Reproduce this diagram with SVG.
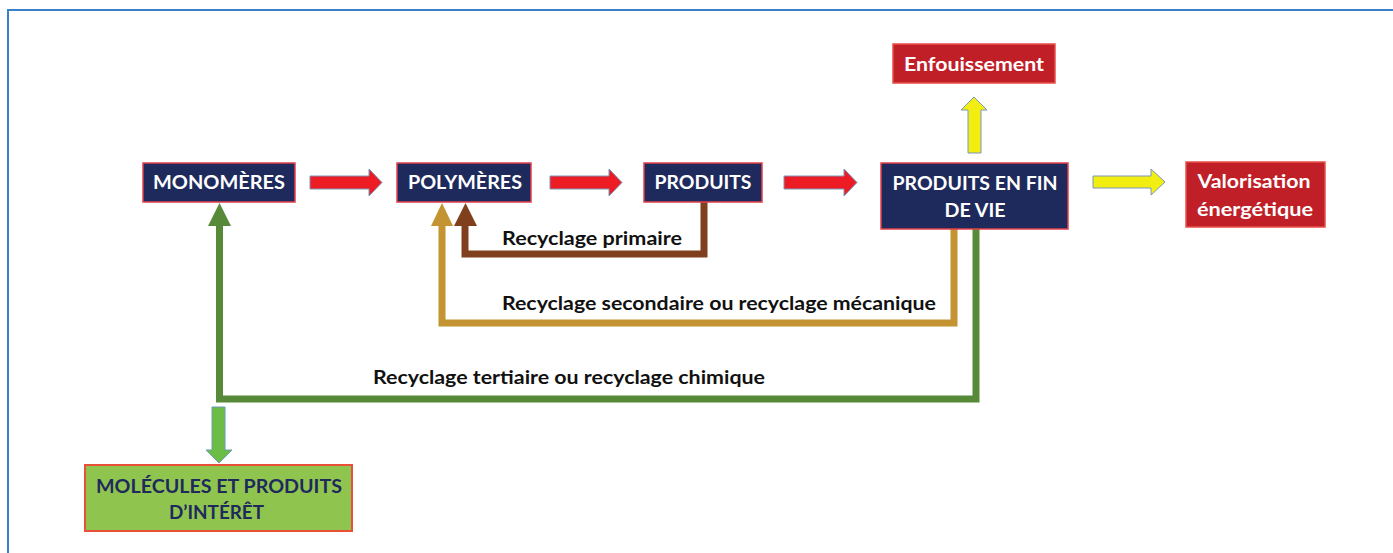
<svg xmlns="http://www.w3.org/2000/svg" width="1393" height="553" viewBox="0 0 1393 553">
<style>
.navy{fill:#1f2a5c;stroke:#e2404a;stroke-width:1.5}
.redbox{fill:#c01f28;stroke:#e85048;stroke-width:1.5}
.greenbox{fill:#8fc54f;stroke:#e8503a;stroke-width:2}
.wt{font-family:Lato,"Liberation Sans",sans-serif;font-weight:bold;font-size:19px;fill:#ffffff;text-anchor:middle}
.gt{font-family:Lato,"Liberation Sans",sans-serif;font-weight:bold;font-size:19px;fill:#1f2a5c;text-anchor:middle}
.lbl{font-family:Lato,"Liberation Sans",sans-serif;font-weight:bold;font-size:18px;fill:#111111}
.redarrow{fill:#ed1c24;stroke:#7a96bb;stroke-width:1}
.yelarrow{fill:#f2ee12;stroke:#7a96bb;stroke-width:1}
.grnarrow{fill:#6cbd45;stroke:#6a9ab8;stroke-width:1}
.line{fill:none;stroke-width:7;stroke-linejoin:miter}
</style>
<rect x="0" y="0" width="1393" height="553" fill="#ffffff"/>
<rect x="8" y="10" width="1420" height="600" fill="none" stroke="#3a80c8" stroke-width="2"/>

<g id="connectors">
  <polygon class="redarrow" points="310,176 369,176 369,169 382,182.5 369,196 369,189 310,189"/>
  <polygon class="redarrow" points="550,176 609,176 609,169 622,182.5 609,196 609,189 550,189"/>
  <polygon class="redarrow" points="784,176 844,176 844,169 857,182.5 844,196 844,189 784,189"/>
  <polygon class="yelarrow" points="968,153 968,110 961,110 974,97 987,110 981,110 981,153"/>
  <polygon class="yelarrow" points="1093,176 1151,176 1151,169 1165,182 1151,195 1151,188 1093,188"/>
  <polygon class="grnarrow" points="212,407 225,407 225,450 232,450 219,463 206,450 212,450"/>
  <path class="line" stroke="#568a38" d="M976,229 V399 H219.5 V224"/>
  <polygon fill="#568a38" points="208,226 231,226 219.5,203"/>
  <path class="line" stroke="#c39431" d="M954,229 V323 H442 V224"/>
  <polygon fill="#c39431" points="431,226 453,226 442,203"/>
  <path class="line" stroke="#80401e" d="M704,202 V254 H465 V224"/>
  <polygon fill="#80401e" points="454,226 477,226 465.5,203"/>
  <text class="lbl" x="502" y="245" textLength="180" lengthAdjust="spacingAndGlyphs">Recyclage primaire</text>
  <text class="lbl" x="502" y="310" textLength="434" lengthAdjust="spacingAndGlyphs">Recyclage secondaire ou recyclage mécanique</text>
  <text class="lbl" x="373" y="384" textLength="392" lengthAdjust="spacingAndGlyphs">Recyclage tertiaire ou recyclage chimique</text>
</g>

<g id="monomeres">
  <rect class="navy" x="143" y="163" width="152" height="39"/>
  <text class="wt" x="219" y="189" textLength="132" lengthAdjust="spacingAndGlyphs">MONOMÈRES</text>
</g>
<g id="polymeres">
  <rect class="navy" x="397" y="163" width="134" height="39"/>
  <text class="wt" x="465" y="189" textLength="114" lengthAdjust="spacingAndGlyphs">POLYMÈRES</text>
</g>
<g id="produits">
  <rect class="navy" x="644" y="163" width="118" height="39"/>
  <text class="wt" x="703" y="189" textLength="97" lengthAdjust="spacingAndGlyphs">PRODUITS</text>
</g>
<g id="fin-de-vie">
  <rect class="navy" x="881" y="163" width="187" height="66"/>
  <text class="wt" x="975" y="190" textLength="165" lengthAdjust="spacingAndGlyphs">PRODUITS EN FIN</text>
  <text class="wt" x="975" y="217" textLength="61" lengthAdjust="spacingAndGlyphs">DE VIE</text>
</g>
<g id="enfouissement">
  <rect class="redbox" x="893" y="44" width="162" height="39"/>
  <text class="wt" x="974" y="71" textLength="140" lengthAdjust="spacingAndGlyphs">Enfouissement</text>
</g>
<g id="valorisation">
  <rect class="redbox" x="1186" y="162" width="139" height="65"/>
  <text class="wt" x="1254" y="188" textLength="113" lengthAdjust="spacingAndGlyphs">Valorisation</text>
  <text class="wt" x="1255" y="216" textLength="116" lengthAdjust="spacingAndGlyphs">énergétique</text>
</g>
<g id="molecules">
  <rect class="greenbox" x="85" y="465" width="267" height="66"/>
  <text class="gt" x="219" y="493" textLength="246" lengthAdjust="spacingAndGlyphs">MOLÉCULES ET PRODUITS</text>
  <text class="gt" x="216.5" y="519" textLength="95" lengthAdjust="spacingAndGlyphs">D’INTÉRÊT</text>
</g>
</svg>
